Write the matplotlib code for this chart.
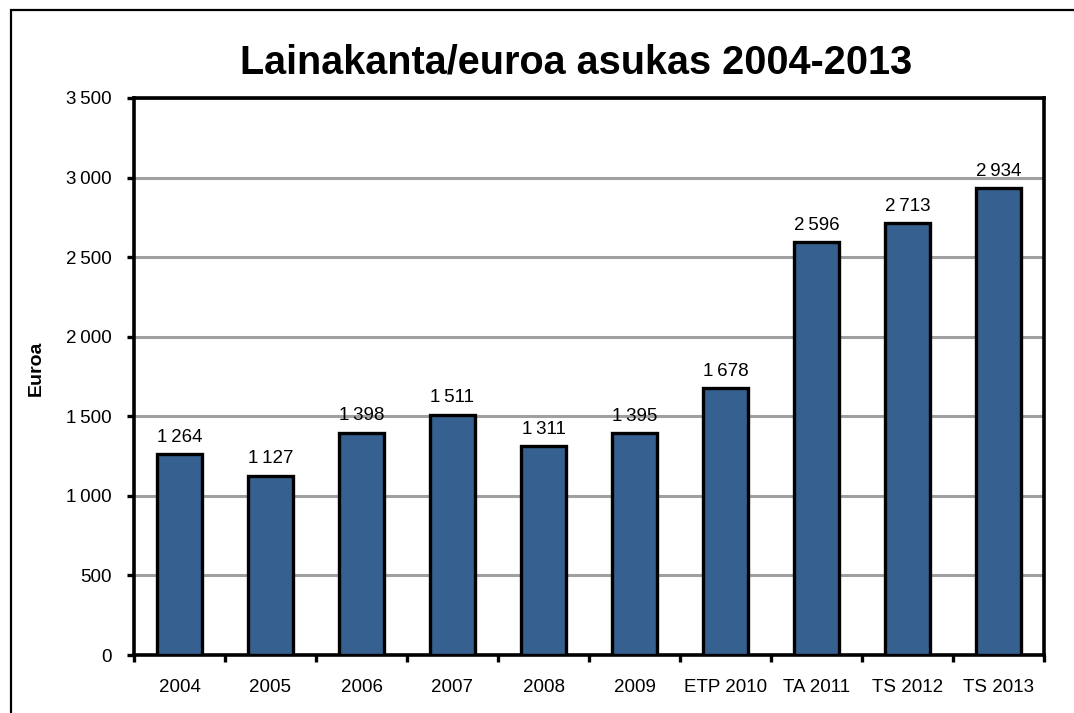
import matplotlib
matplotlib.use("Agg")
import matplotlib.pyplot as plt
from matplotlib.patches import Rectangle

categories = ["2004", "2005", "2006", "2007", "2008", "2009", "ETP 2010", "TA 2011", "TS 2012", "TS 2013"]
values = [1264, 1127, 1398, 1511, 1311, 1395, 1678, 2596, 2713, 2934]
yticks = [0, 500, 1000, 1500, 2000, 2500, 3000, 3500]

def fmt(v):
    s = f"{v:,}".replace(",", "\u2009")
    return s

plt.rcParams['font.family'] = ['Liberation Sans', 'DejaVu Sans']

fig = plt.figure(figsize=(10.74, 7.13), dpi=100)
ax = fig.add_axes([134/1074, 1 - 655/713, (1044 - 134)/1074, (655 - 98)/713])

# outer frame (cropped on right and bottom)
fig.patches.append(Rectangle((11/1074, -0.2), 1.2, (713 - 10)/713 + 0.2,
                             transform=fig.transFigure, fill=False,
                             edgecolor='black', linewidth=1.6, zorder=0))

x = list(range(len(categories)))
ax.bar(x, values, width=0.5, color='#36608F', edgecolor='black', linewidth=2.4, zorder=3)
for xi, v in zip(x, values):
    ax.annotate(fmt(v), (xi, v), xytext=(0, 6), textcoords='offset points',
                ha='center', va='bottom', fontsize=13.5)

ax.set_xlim(-0.5, len(categories) - 0.5)
ax.set_ylim(0, 3500)
ax.set_yticks(yticks)
ax.set_yticklabels([fmt(t) for t in yticks], fontsize=13.5)
ax.set_xticks(x)
ax.set_xticklabels(categories, fontsize=13.5)
ax.tick_params(axis='x', which='major', length=0, pad=17)
ax.set_xticks([i - 0.5 for i in range(len(categories) + 1)], minor=True)
ax.tick_params(axis='x', which='minor', length=5, width=2.4, direction='out')
ax.tick_params(axis='y', length=5, width=2.4, direction='out', pad=11)
ax.yaxis.grid(True, color='#A0A0A0', linewidth=2.2, zorder=0)
ax.set_axisbelow(True)
for sp in ax.spines.values():
    sp.set_linewidth(2.6)
    sp.set_color('black')

fig.text(36/1074, 1 - 368/713, "Euroa", rotation=90, ha='center', va='center',
         fontsize=14, fontweight='bold')
fig.text(576/1074, 1 - 62/713, "Lainakanta/euroa asukas 2004-2013", ha='center', va='center',
         fontsize=28.5, fontweight='bold')

fig.savefig("out.png", dpi=100)
